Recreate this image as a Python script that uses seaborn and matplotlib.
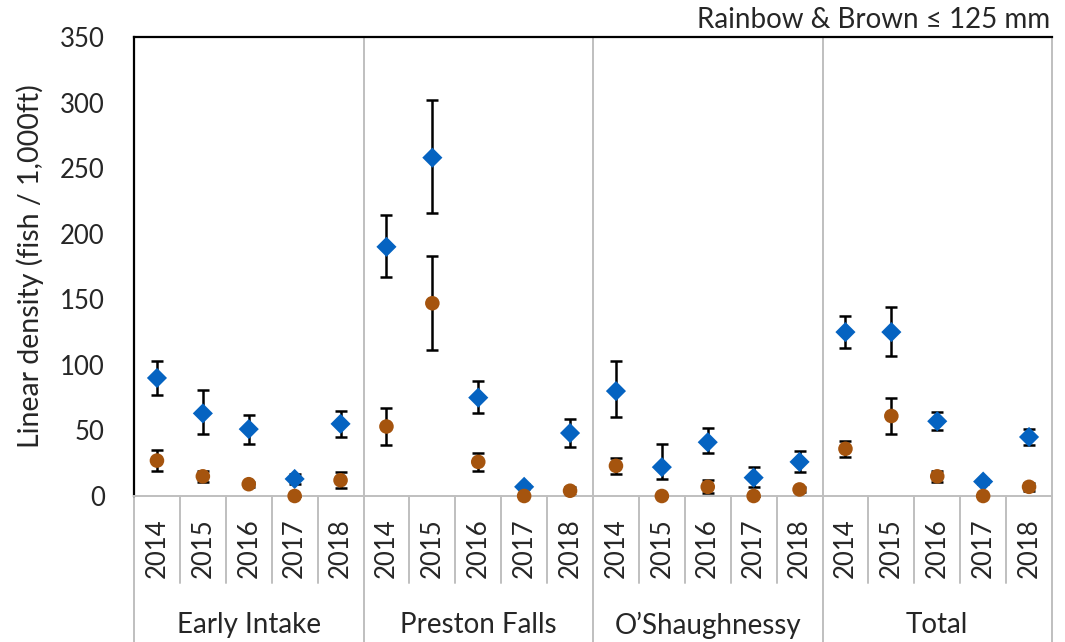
import numpy as np
import pandas as pd
import matplotlib
matplotlib.use("Agg")
import matplotlib.pyplot as plt
import seaborn as sns

# ---- data ----
groups = ["Early Intake", "Preston Falls", "O\u2019Shaughnessy", "Total"]
years = ["2014", "2015", "2016", "2017", "2018"]

rainbow = [90, 63, 51, 13, 55, 190, 258, 75, 7, 48, 80, 22, 41, 14, 26, 125, 125, 57, 11, 45]
rainbow_lo = [13, 16, 11, 4, 10, 23, 42, 12, 2, 11, 20, 9, 8, 7, 8, 12, 18, 7, 2, 6]
rainbow_hi = [13, 18, 11, 4, 10, 24, 44, 13, 2, 11, 23, 18, 11, 8, 8, 12, 19, 7, 2, 6]
brown = [27, 15, 9, 0, 12, 53, 147, 26, 0, 4, 23, 0, 7, 0, 5, 36, 61, 15, 0, 7]
brown_err = [8, 4, 2, 0, 6, 14, 36, 7, 0, 3, 6, 0, 5, 0, 2, 6, 14, 4, 0, 3]

title = "Rainbow & Brown \u2264 125 mm"
ylabel = "Linear density (fish / 1,000ft)"

BLUE = "#0563C1"
BROWN = "#A5540E"
GRID = "#BFBFBF"

sns.set_style("white")
plt.rcParams["font.family"] = ["Lato", "DejaVu Sans"]

FS = 18.5
W, H = 1065, 642
fig = plt.figure(figsize=(W / 100, H / 100), dpi=100)
L, R, T, B = 134, 1052, 37, 496
ax = fig.add_axes([L / W, 1 - B / H, (R - L) / W, (B - T) / H])

n = len(groups) * len(years)
pos = np.arange(n)

df = pd.DataFrame({
    "x": np.concatenate([pos, pos]),
    "density": rainbow + brown,
    "species": ["Rainbow"] * n + ["Brown"] * n,
})

ax.errorbar(pos, rainbow, yerr=[rainbow_lo, rainbow_hi], fmt="none", ecolor="black",
            elinewidth=1.8, capsize=4, capthick=1.8, zorder=2, clip_on=False)
ax.errorbar(pos, brown, yerr=[brown_err, brown_err], fmt="none", ecolor="black",
            elinewidth=1.8, capsize=4, capthick=1.8, zorder=2, clip_on=False)

sns.scatterplot(data=df, x="x", y="density", hue="species", style="species",
                size="species", sizes={"Rainbow": 105, "Brown": 110},
                markers={"Rainbow": "D", "Brown": "o"},
                palette={"Rainbow": BLUE, "Brown": BROWN},
                linewidth=0, legend=False, zorder=3, clip_on=False, ax=ax)

ax.set_xlim(-0.5, n - 0.5)
ax.set_ylim(0, 350)
ax.set_yticks(range(0, 351, 50))
ax.tick_params(axis="y", length=0, pad=21, labelsize=FS)
ax.set_xticks(pos)
ax.set_xticklabels(years * len(groups), rotation=90)
ax.tick_params(axis="x", length=0, pad=16, labelsize=FS)
ax.set_xlabel("")
ax.set_ylabel("")

for side in ["top", "left"]:
    ax.spines[side].set_color("black")
    ax.spines[side].set_linewidth(1.6)
for side in ["right", "bottom"]:
    ax.spines[side].set_color(GRID)
    ax.spines[side].set_linewidth(1.4)

tr = ax.get_xaxis_transform()
for k in range(1, n):
    if k % 5 == 0:
        ax.plot([k - 0.5, k - 0.5], [-0.325, 1], color=GRID, lw=1.4,
                transform=tr, clip_on=False, zorder=1)
    else:
        ax.plot([k - 0.5, k - 0.5], [0, -0.19], color=GRID, lw=1.4,
                transform=tr, clip_on=False, zorder=1)
for xx in [-0.5, n - 0.5]:
    ax.plot([xx, xx], [0, -0.325], color=GRID, lw=1.4, transform=tr, clip_on=False)

for g, name in enumerate(groups):
    ax.text(g * 5 + 2, -0.282, name, transform=tr, ha="center", va="center",
            fontsize=20)

fig.text(30 / W, 1 - 266 / H, ylabel, rotation=90, ha="center", va="center",
         fontsize=20.5)
fig.text(1050 / W, 1 - 20 / H, title, ha="right", va="center", fontsize=20)

fig.savefig("out.png", dpi=100)
